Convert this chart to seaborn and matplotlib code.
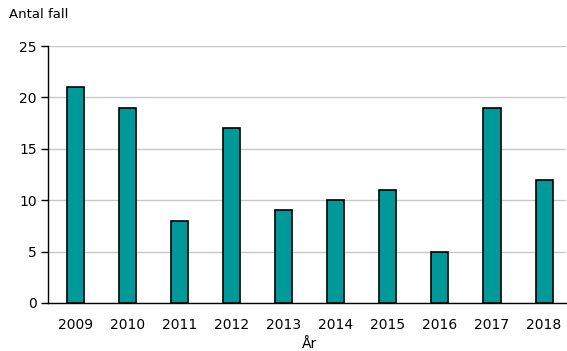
import matplotlib
matplotlib.use("Agg")
import matplotlib.pyplot as plt
import seaborn as sns
import pandas as pd

years = ["2009", "2010", "2011", "2012", "2013", "2014", "2015", "2016", "2017", "2018"]
cases = [21, 19, 8, 17, 9, 10, 11, 5, 19, 12]

sns.set_theme(style="white", font="DejaVu Sans",
              rc={"text.color": "black", "axes.labelcolor": "black",
                  "xtick.color": "black", "ytick.color": "black"})
plt.rcParams['font.family'] = ['DejaVu Sans']

df = pd.DataFrame({"year": years, "cases": cases})

fig = plt.figure(figsize=(5.67, 3.51), dpi=100)
ax = fig.add_axes([48/567, 1-303/351, 518/567, 257/351])

sns.barplot(data=df, x="year", y="cases", color="#009999", width=0.33,
            edgecolor="black", linewidth=1.2, saturation=1, ax=ax, zorder=3)

ax.set_ylim(0, 25)
ax.set_yticks([0, 5, 10, 15, 20, 25])
ax.set_xlim(-0.52, 9.42)
ax.yaxis.grid(True, color="#c8c8c8", linewidth=1, zorder=0)
ax.set_axisbelow(True)
for s in ["top", "right"]:
    ax.spines[s].set_visible(False)
ax.spines["left"].set_color("black")
ax.spines["bottom"].set_color("black")
ax.spines["left"].set_linewidth(1)
ax.spines["bottom"].set_linewidth(1)
ax.tick_params(axis="y", which="both", left=True, length=5, width=1, color="black", labelsize=10, pad=3)
ax.tick_params(axis="x", bottom=False, labelsize=10, pad=5)
ax.set_ylabel("")
ax.set_xlabel("")
fig.text(310/567, 1-344/351, "År", fontsize=10, va="center", ha="center")
fig.text(9/567, 1-15/351, "Antal fall", fontsize=9.5, va="center", ha="left")

fig.savefig("out.png", dpi=100)
